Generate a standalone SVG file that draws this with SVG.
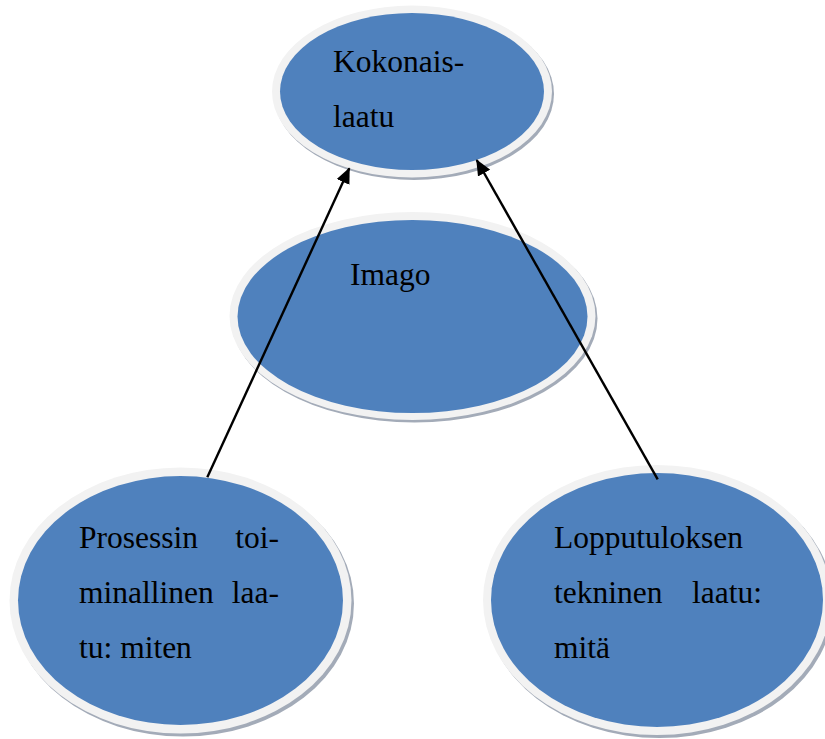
<svg xmlns="http://www.w3.org/2000/svg" width="825" height="739" viewBox="0 0 825 739">
<style>
.shadow{fill:#a3abb8}
.rim{fill:#f2f2f2}
.body{fill:#4f81bd}
.lbl{font-family:"Liberation Serif","Times New Roman",serif;font-size:31.5px;fill:#000}
.edge{stroke:#000;stroke-width:2.4;fill:none;marker-end:url(#arr)}
</style>
<defs>
<marker id="arr" markerUnits="userSpaceOnUse" markerWidth="16" markerHeight="14" viewBox="0 0 16 14" refX="15" refY="7" orient="auto">
<path d="M0,0 L16,7 L0,14 Z" fill="#000"/>
</marker>
</defs>
<rect width="825" height="739" fill="#fff"/>
<g id="node-kokonaislaatu">
<ellipse class="shadow" cx="414" cy="94" rx="140" ry="86"/>
<ellipse class="rim" cx="412" cy="91.5" rx="140" ry="86"/>
<ellipse class="body" cx="412" cy="91.5" rx="132" ry="78.5"/>
<text class="lbl" x="333" y="72">Kokonais-</text>
<text class="lbl" x="333" y="127">laatu</text>
</g>
<g id="node-imago">
<ellipse class="shadow" cx="414.5" cy="318.5" rx="183" ry="104"/>
<ellipse class="rim" cx="412.5" cy="316" rx="183" ry="104"/>
<ellipse class="body" cx="412.5" cy="316.5" rx="175" ry="96.5"/>
<text class="lbl" x="350" y="285">Imago</text>
</g>
<g id="node-prosessin">
<ellipse class="shadow" cx="183" cy="603.5" rx="171" ry="133"/>
<ellipse class="rim" cx="180.5" cy="600.5" rx="171" ry="133"/>
<ellipse class="body" cx="180.5" cy="600.5" rx="162.5" ry="124.5"/>
<text class="lbl" x="79" y="548">Prosessin</text>
<text class="lbl" x="279" y="548" text-anchor="end">toi-</text>
<text class="lbl" x="79" y="603">minallinen</text>
<text class="lbl" x="279" y="603" text-anchor="end">laa-</text>
<text class="lbl" x="79" y="658">tu: miten</text>
</g>
<g id="node-lopputuloksen">
<ellipse class="shadow" cx="659.5" cy="603" rx="174" ry="135"/>
<ellipse class="rim" cx="657" cy="600" rx="174" ry="135"/>
<ellipse class="body" cx="657" cy="600" rx="166" ry="127"/>
<text class="lbl" x="554" y="548">Lopputuloksen</text>
<text class="lbl" x="554" y="603">tekninen</text>
<text class="lbl" x="762" y="603" text-anchor="end">laatu:</text>
<text class="lbl" x="554" y="658">mitä</text>
</g>
<g id="connectors">
<line class="edge" x1="207.3" y1="477.3" x2="349.3" y2="168.3"/>
<line class="edge" x1="657.7" y1="479.3" x2="476.7" y2="160"/>
</g>
</svg>
